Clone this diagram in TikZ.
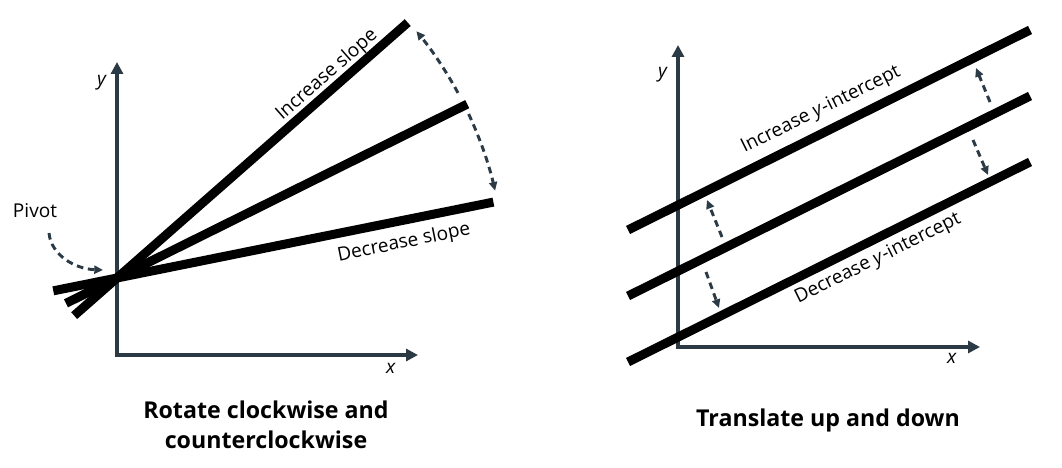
\documentclass[tikz,border=0pt]{standalone}
\usepackage{fontspec}
\setmainfont{Open Sans}
\usetikzlibrary{arrows.meta,calc}
\definecolor{slate}{HTML}{2B3A45}

\begin{document}
\begin{tikzpicture}[x=0.75pt,y=0.75pt,
  axis/.style={draw=slate,line width=3pt,{Triangle[length=9pt,width=9pt]}-{Triangle[length=9pt,width=9pt]}},
  bar/.style={line width=6.75pt},
  move/.style={draw=slate,line width=2.2pt,dash pattern=on 5pt off 3.5pt,-{Triangle[length=6.5pt,width=6pt]}},
  lbl/.style={font=\fontsize{14.3}{17}\selectfont},
  ttl/.style={font=\fontsize{17.4}{22.5}\selectfont\bfseries,align=center}]
\useasboundingbox (0,0) rectangle (1062,467);

% left: rotate about the pivot
\coordinate (o1) at (117,112);
\coordinate (pivot) at (117,189);
\draw[axis] (117,405) -- (o1) -- (418,112);
\node[lbl] (y1) at (102,384) {\textit{y}};
\node[lbl] (x1) at (391,99) {\textit{x}};

\foreach \a/\lo/\hi/\n in {41.3/57/387/steep,26.4/57/391/mid,11.4/65/384/flat}{
    \draw[bar] ($(pivot)+(\a+180:\lo)$) coordinate (\n-a) -- ($(pivot)+(\a:\hi)$) coordinate (\n-b);
}
\node[lbl,rotate=41.3] (inc1) at (327,392) {Increase slope};
\node[lbl,rotate=11.4] (dec1) at (404,224) {Decrease slope};

\draw[move] ($(pivot)+(28.5:388)$) arc[start angle=28.5,end angle=39.5,radius=388];
\draw[move] ($(pivot)+(25:388)$) arc[start angle=25,end angle=13,radius=388];

\node[lbl] (piv) at (35,256) {Pivot};
\coordinate (piv-from) at (49,234);
\draw[move] (piv-from) .. controls (51,212) and (75,198) .. ($(pivot)+(-14,8)$);

\node[ttl] (t1) at (266,42) {Rotate clockwise and\\counterclockwise};

% right: shift up and down
\coordinate (o2) at (678,120);
\draw[axis] (678,422) -- (o2) -- (980,120);
\node[lbl] (y2) at (663,392) {\textit{y}};
\node[lbl] (x2) at (952,109) {\textit{x}};

\foreach \d/\n in {0/low,66/base,132/high}{
    \draw[bar] (628,105+\d) coordinate (\n-a) -- (1030,305+\d) coordinate (\n-b);
}
\node[lbl,rotate=26.3] (inc2) at (821,357) {Increase \textit{y}-intercept};
\node[lbl,rotate=26.3] (dec2) at (878,208) {Decrease \textit{y}-intercept};

\draw[move] (990,365) -- (976,399);
\draw[move] (973,327) -- (988,292);
\draw[move] (722,230) -- (707,267);
\draw[move] (706,195) -- (719,159);

\node[ttl] (t2) at (828,47) {Translate up and down};
\end{tikzpicture}
\end{document}
